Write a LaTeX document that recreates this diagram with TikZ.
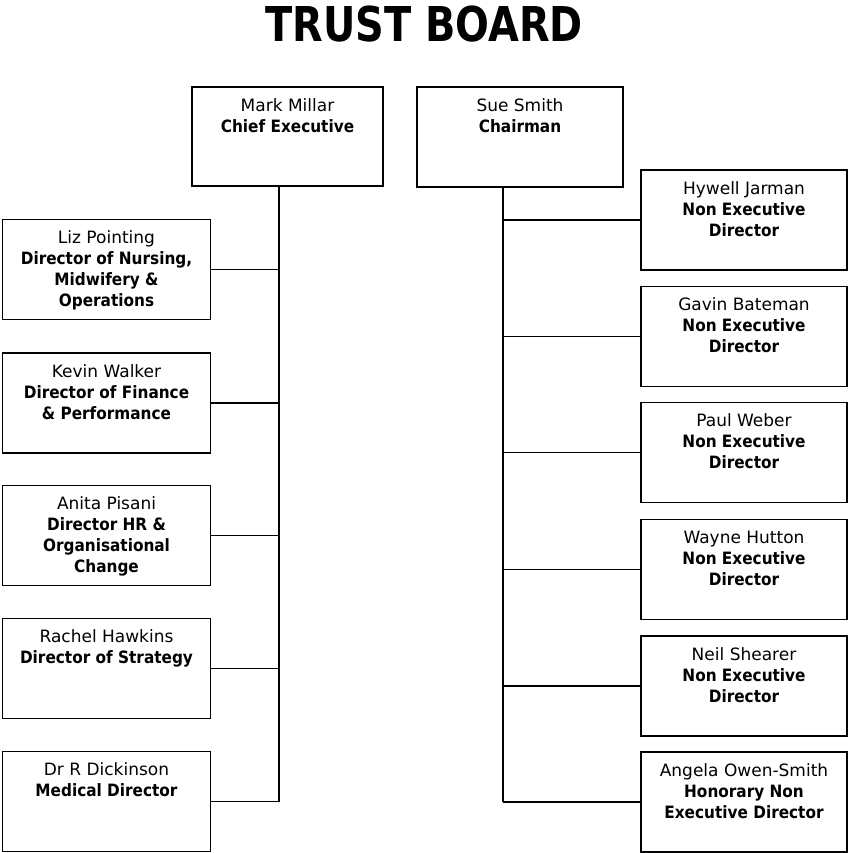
\documentclass[tikz,border=0pt]{standalone}
\usepackage{fontspec}
\setmainfont{DejaVu Sans}
\newfontfamily\bd{DejaVu Sans}[FakeStretch=0.9]
\newfontfamily\titlefont{DejaVu Sans}[FakeStretch=0.83]
\newcommand{\rl}[1]{{\bd\bfseries #1}}
\begin{document}
\begin{tikzpicture}[x=1pt,y=-1pt,
  box/.style={draw, line width=1.8pt, rectangle, inner sep=0pt, minimum width=#1},
  lbox/.style={box=208, minimum height=100},
  rbox/.style={box=206, minimum height=100},
  txt/.style={anchor=north, inner sep=0pt, align=center, font=\fontsize{17}{21}\selectfont},
  conn/.style={line width=1.8pt}]
\useasboundingbox (0,0) rectangle (848,853);

\node[font=\titlefont\bfseries\fontsize{48}{58}\selectfont, anchor=base, inner sep=0pt] (title) at (424,42) {TRUST BOARD};

% top boxes
\node[box=191, minimum height=99] (ce) at (287.5,136.5) {};
\node[box=206, minimum height=100] (ch) at (520,137) {};
\node[txt] (cet) at ([yshift=-12pt]ce.north) {Mark Millar\\\rl{Chief Executive}};
\node[txt] (cht) at ([yshift=-12pt]ch.north) {Sue Smith\\\rl{Chairman}};

% left boxes
\node[lbox] (liz) at (106.5,269.5) {};
\node[lbox] (kev) at (106.5,403) {};
\node[lbox] (ani) at (106.5,535.5) {};
\node[lbox] (rac) at (106.5,668.5) {};
\node[lbox] (dic) at (106.5,801.5) {};
\node[txt] (lizt) at ([yshift=-12pt]liz.north) {Liz Pointing\\\rl{Director of Nursing,}\\\rl{Midwifery \&}\\\rl{Operations}};
\node[txt] (kevt) at ([yshift=-12pt]kev.north) {Kevin Walker\\\rl{Director of Finance}\\\rl{\& Performance}};
\node[txt] (anit) at ([yshift=-12pt]ani.north) {Anita Pisani\\\rl{Director HR \&}\\\rl{Organisational}\\\rl{Change}};
\node[txt] (ract) at ([yshift=-12pt]rac.north) {Rachel Hawkins\\\rl{Director of Strategy}};
\node[txt] (dict) at ([yshift=-12pt]dic.north) {Dr R Dickinson\\\rl{Medical Director}};

% right boxes
\node[rbox] (hyw) at (744,220) {};
\node[rbox] (gav) at (744,336.5) {};
\node[rbox] (pau) at (744,452.5) {};
\node[rbox] (way) at (744,569.5) {};
\node[rbox] (nei) at (744,686) {};
\node[rbox] (ang) at (744,802) {};
\node[txt] (hywt) at ([yshift=-12pt]hyw.north) {Hywell Jarman\\\rl{Non Executive}\\\rl{Director}};
\node[txt] (gavt) at ([yshift=-12pt]gav.north) {Gavin Bateman\\\rl{Non Executive}\\\rl{Director}};
\node[txt] (paut) at ([yshift=-12pt]pau.north) {Paul Weber\\\rl{Non Executive}\\\rl{Director}};
\node[txt] (wayt) at ([yshift=-12pt]way.north) {Wayne Hutton\\\rl{Non Executive}\\\rl{Director}};
\node[txt] (neit) at ([yshift=-12pt]nei.north) {Neil Shearer\\\rl{Non Executive}\\\rl{Director}};
\node[txt] (angt) at ([yshift=-12pt]ang.north) {Angela Owen-Smith\\\rl{Honorary Non}\\\rl{Executive Director}};

% trunks
\coordinate (lt) at (279,186);
\coordinate (lb) at (279,801.5);
\coordinate (rt) at (503,187);
\coordinate (rb) at (503,802);
\draw[conn] (lt) -- (lb);
\draw[conn] (rt) -- (rb);

% connectors
\foreach \n in {liz,kev,ani,rac,dic} \draw[conn] (\n.east) -- (\n.east -| lt);
\foreach \n in {hyw,gav,pau,way,nei,ang} \draw[conn] (\n.west) -- (\n.west -| rt);
\end{tikzpicture}
\end{document}
